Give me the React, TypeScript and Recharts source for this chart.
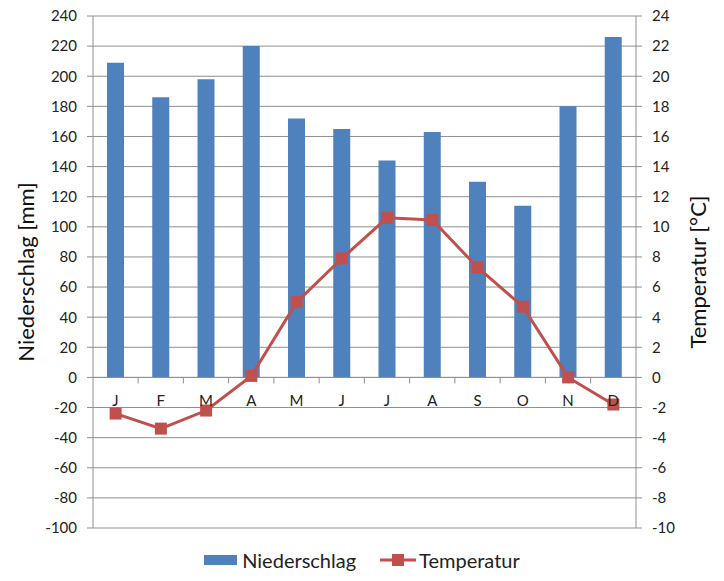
import React from "react"
import {
  ComposedChart,
  Bar,
  Line,
  XAxis,
  YAxis,
  CartesianGrid,
  ReferenceLine,
  LabelList,
  Legend,
} from "recharts"

const months = ["J", "F", "M", "A", "M", "J", "J", "A", "S", "O", "N", "D"]
const niederschlag = [209, 186, 198, 220, 172, 165, 144, 163, 130, 114, 180, 226]
const temperatur = [-2.4, -3.4, -2.2, 0.1, 5.0, 7.9, 10.6, 10.45, 7.3, 4.7, 0.0, -1.8]

const leftTicks = [-100, -80, -60, -40, -20, 0, 20, 40, 60, 80, 100, 120, 140, 160, 180, 200, 220, 240]
const rightTicks = [-10, -8, -6, -4, -2, 0, 2, 4, 6, 8, 10, 12, 14, 16, 18, 20, 22, 24]

const BLUE = "#4F81BD"
const RED = "#C0504D"
const GRID = "#8f8f8f"
const FONT = "Lato, 'Open Sans', sans-serif"

const WIDTH = 708
const HEIGHT = 581
const MARGIN = { top: 16, right: 10, bottom: 0, left: 10 }
const LEFT_W = 75
const RIGHT_W = 70
const PLOT_W = WIDTH - MARGIN.left - MARGIN.right - LEFT_W - RIGHT_W
const BAND = PLOT_W / months.length

const data = months.map((m, i) => ({
  month: m,
  niederschlag: niederschlag[i],
  temperatur: temperatur[i],
}))

// month letters and the small tick marks sit on the zero line, below each bar
const MonthLabel = (props: any) => {
  const { x, y, width, height, value } = props
  const cx = x + width / 2
  const base = y + height
  const left = cx - BAND / 2
  return (
    <g>
      {left > MARGIN.left + LEFT_W + 1 && (
        <line x1={left} x2={left} y1={base} y2={base + 6} stroke={GRID} strokeWidth={1} />
      )}
      <text
        x={cx}
        y={base + 29}
        textAnchor="middle"
        fontSize={15}
        fontFamily={FONT}
        fill="#222"
      >
        {value}
      </text>
    </g>
  )
}

const SquareDot = (props: any) => {
  const { cx, cy, index } = props
  if (cx == null || cy == null) return null
  return <rect key={`dot-${index}`} x={cx - 6} y={cy - 6} width={12} height={12} fill={RED} />
}

const LegendContent = () => (
  <div
    style={{
      display: "flex",
      justifyContent: "center",
      alignItems: "center",
      fontFamily: FONT,
      fontSize: 20,
      lineHeight: "20px",
      color: "#222",
      paddingTop: 22,
    }}
  >
    <span style={{ display: "inline-block", width: 33, height: 10, background: BLUE, marginRight: 5 }} />
    <span style={{ marginRight: 24 }}>Niederschlag</span>
    <svg width={36} height={14} style={{ marginRight: 3 }}>
      <line x1={0} x2={36} y1={7} y2={7} stroke={RED} strokeWidth={3} />
      <rect x={12} y={1} width={12} height={12} fill={RED} />
    </svg>
    <span>Temperatur</span>
  </div>
)

export default function App() {
  return (
    <div style={{ marginTop: -8, marginBottom: -8 }}>
      <ComposedChart width={WIDTH} height={HEIGHT} data={data} margin={MARGIN}>
        <CartesianGrid yAxisId="left" vertical={false} stroke={GRID} strokeWidth={1} />
        <XAxis dataKey="month" hide />
        <YAxis
          yAxisId="left"
          width={LEFT_W}
          domain={[-100, 240]}
          ticks={leftTicks}
          interval={0}
          allowDataOverflow
          stroke={GRID}
          tickSize={6}
          tickMargin={10}
          tick={{ fill: "#222", fontSize: 15, fontFamily: FONT }}
          label={{
            value: "Niederschlag [mm]",
            angle: -90,
            position: "insideLeft",
            offset: 8,
            style: { textAnchor: "middle", fontSize: 22, fontFamily: FONT, fill: "#111" },
          }}
        />
        <YAxis
          yAxisId="right"
          orientation="right"
          width={RIGHT_W}
          domain={[-10, 24]}
          ticks={rightTicks}
          interval={0}
          allowDataOverflow
          stroke={GRID}
          tickSize={6}
          tickMargin={10}
          tick={{ fill: "#222", fontSize: 15, fontFamily: FONT }}
          label={{
            value: "Temperatur [°C]",
            angle: -90,
            position: "insideRight",
            offset: 8,
            style: { textAnchor: "middle", fontSize: 22, fontFamily: FONT, fill: "#111" },
          }}
        />
        <ReferenceLine yAxisId="left" y={0} stroke={GRID} strokeWidth={1} />
        <Bar yAxisId="left" dataKey="niederschlag" fill={BLUE} barSize={17} isAnimationActive={false}>
          <LabelList dataKey="month" content={MonthLabel} />
        </Bar>
        <Line
          yAxisId="right"
          dataKey="temperatur"
          stroke={RED}
          strokeWidth={3}
          dot={SquareDot}
          activeDot={false}
          isAnimationActive={false}
        />
        <Legend verticalAlign="bottom" height={53} content={LegendContent} />
      </ComposedChart>
    </div>
  )
}
